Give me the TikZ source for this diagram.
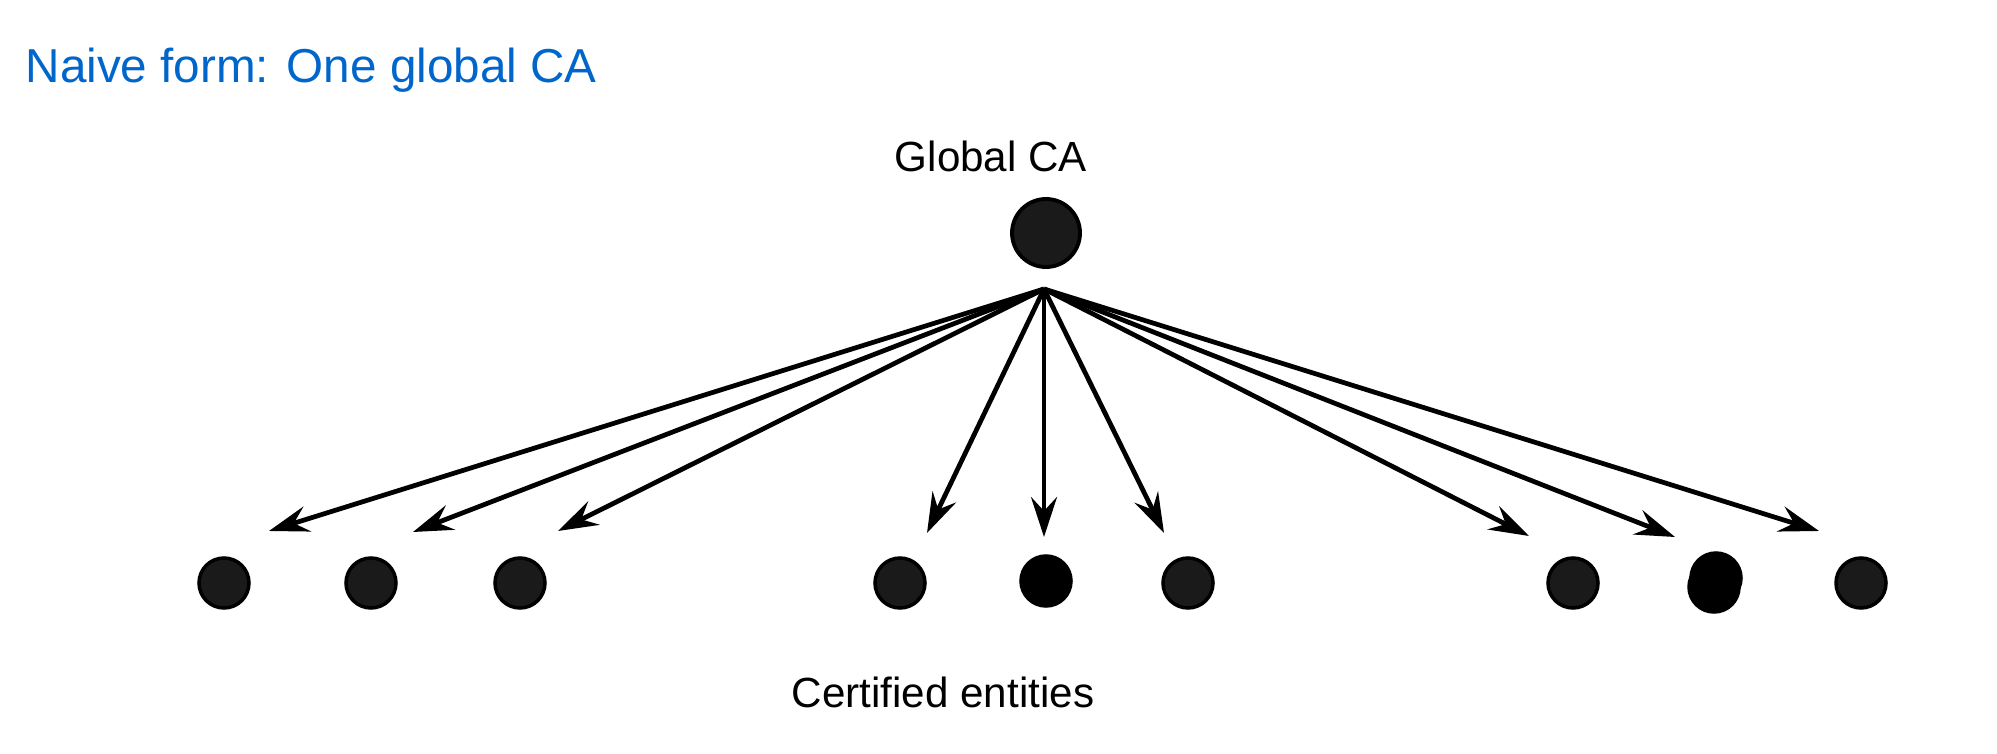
\documentclass[tikz,border=0pt]{standalone}
\usepackage{fontspec}
\setmainfont{Liberation Sans}
\usetikzlibrary{arrows.meta}

\definecolor{titleblue}{RGB}{0,102,204}
\definecolor{dotgray}{RGB}{26,26,26}

\tikzset{
  entity/.style={circle, draw=black, fill=dotgray, line width=1pt, minimum size=0.5cm, inner sep=0pt},
  rootca/.style={circle, draw=black, fill=dotgray, line width=1.1pt, minimum size=0.68cm, inner sep=0pt},
  certarrow/.style={line width=1.35pt, -{Stealth[length=0.4cm, width=0.26cm, inset=0.14cm]}},
  label/.style={inner sep=0pt, anchor=base, font=\fontsize{12pt}{14pt}\selectfont}
}

\begin{document}
\begin{tikzpicture}

\useasboundingbox (0,0) rectangle (19.97,-7.54);

% ---------- Title ----------
\node[inner sep=0pt, anchor=base west, text=titleblue, font=\fontsize{13.55pt}{16pt}\selectfont] (title) at (0.25,-0.83) {Naive form: One global CA};

% ---------- Global CA ----------
\node[label] (calabel) at (9.91,-1.72) {Global CA};
\node[rootca] (ca) at (10.46,-2.33) {};
\coordinate (src) at (10.44,-2.89);

% ---------- Certified entities ----------
\node[entity] (e1) at (2.24,-5.83) {};
\node[entity] (e2) at (3.71,-5.83) {};
\node[entity] (e3) at (5.20,-5.83) {};
\node[entity] (e4) at (9.00,-5.83) {};
\node[entity, fill=black] (e5) at (10.46,-5.81) {};
\node[entity] (e6) at (11.88,-5.83) {};
\node[entity] (e7) at (15.73,-5.83) {};
\node[entity, fill=black] (e8b) at (17.14,-5.87) {};
\node[entity, fill=black] (e8) at (17.16,-5.78) {};
\node[entity] (e9) at (18.61,-5.83) {};

\node[label] (entlabel) at (9.43,-7.08) {Certified entities};

% ---------- Arrows ----------
\coordinate (t1) at (2.69,-5.31);
\coordinate (t2) at (4.13,-5.32);
\coordinate (t3) at (5.58,-5.31);
\coordinate (t4) at (9.27,-5.33);
\coordinate (t5) at (10.44,-5.37);
\coordinate (t6) at (11.64,-5.33);
\coordinate (t7) at (15.29,-5.36);
\coordinate (t8) at (16.75,-5.37);
\coordinate (t9) at (18.19,-5.31);

\draw[certarrow] (src) -- (t1);
\draw[certarrow] (src) -- (t2);
\draw[certarrow] (src) -- (t3);
\draw[certarrow] (src) -- (t4);
\draw[certarrow] (src) -- (t5);
\draw[certarrow] (src) -- (t6);
\draw[certarrow] (src) -- (t7);
\draw[certarrow] (src) -- (t8);
\draw[certarrow] (src) -- (t9);

\end{tikzpicture}
\end{document}
